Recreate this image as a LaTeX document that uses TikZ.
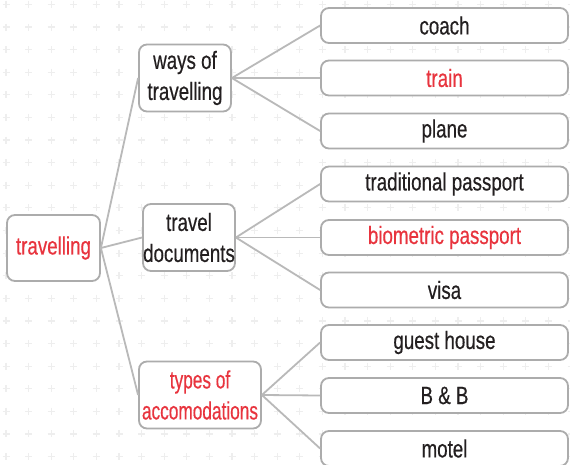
\documentclass[tikz,border=0pt]{standalone}
\usepackage{fontspec}
\setmainfont[FakeStretch=0.75,FakeBold=0.4]{Liberation Sans}
\newfontfamily\narrowfont[FakeStretch=0.69,FakeBold=0.4]{Liberation Sans}
\definecolor{boxgray}{RGB}{172,172,172}
\definecolor{linegray}{RGB}{185,185,185}
\definecolor{gridgray}{RGB}{238,238,238}
\definecolor{txtdark}{RGB}{35,31,32}
\definecolor{txtred}{RGB}{232,52,62}
\tikzset{
  box/.style={draw=boxgray, line width=1.8pt, rounded corners=8pt, fill=white,
    inner sep=0pt, font=\fontsize{25}{31}\selectfont, text=txtdark, align=center},
  leaf/.style={box, minimum width=247pt, minimum height=35pt},
  cat/.style={box, minimum height=67pt},
  red/.style={text=txtred},
  conn/.style={draw=linegray, line width=1.8pt},
  gridplus/.style={draw=gridgray, line width=1.2pt}
}
\begin{document}
\begin{tikzpicture}[x=1pt,y=-1pt]
\useasboundingbox (0,0) rectangle (570,465);
\fill[white] (0,0) rectangle (570,465);
% background grid of plus signs
\foreach \i in {0,...,25}{
  \foreach \j in {0,...,20}{
    \pgfmathsetmacro{\gx}{6+22.6*\i}
    \pgfmathsetmacro{\gy}{4.5+22.6*\j}
    \draw[gridplus] (\gx-3.5,\gy) -- (\gx+3.5,\gy) (\gx,\gy-3.5) -- (\gx,\gy+3.5);
  }
}
% root
\node[box, red, minimum width=93pt, minimum height=66pt] (root) at (53.5,248) {travelling};
% categories
\node[cat, minimum width=92pt] (ways) at (185,78) {ways of\\travelling};
\node[cat, minimum width=92pt] (docs) at (189,237.5) {travel\\documents};
\node[cat, red, minimum width=122pt, font=\fontsize{25}{31}\narrowfont] (acc) at (200,395) {types of\\accomodations};
% leaves
\node[leaf] (coach) at (444.5,25.5) {coach};
\node[leaf, red] (train) at (444.5,78) {train};
\node[leaf] (plane) at (444.5,131) {plane};
\node[leaf] (trad) at (444.5,184) {traditional passport};
\node[leaf, red] (bio) at (444.5,237.5) {biometric passport};
\node[leaf] (visa) at (444.5,290) {visa};
\node[leaf] (guest) at (444.5,342.5) {guest house};
\node[leaf] (bb) at (444.5,395.5) {B \& B};
\node[leaf] (motel) at (444.5,448.5) {motel};
% connectors
\draw[conn] (root.east) -- (ways.west);
\draw[conn] (root.east) -- (docs.west);
\draw[conn] (root.east) -- (acc.west);
\draw[conn] (ways.east) -- (coach.west);
\draw[conn] (ways.east) -- (train.west);
\draw[conn] (ways.east) -- (plane.west);
\draw[conn] (docs.east) -- (trad.west);
\draw[conn] (docs.east) -- (bio.west);
\draw[conn] (docs.east) -- (visa.west);
\draw[conn] (acc.east) -- (guest.west);
\draw[conn] (acc.east) -- (bb.west);
\draw[conn] (acc.east) -- (motel.west);
\end{tikzpicture}
\end{document}
